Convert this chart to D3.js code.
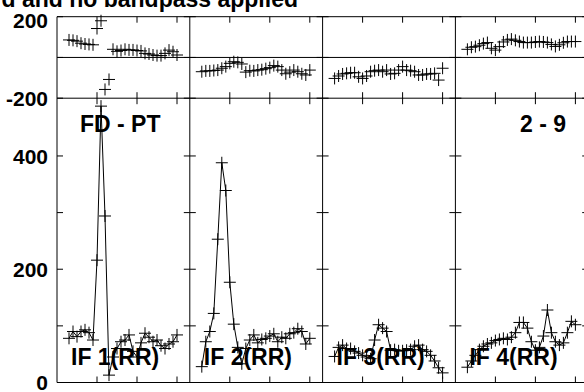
<!DOCTYPE html>
<html>
<head>
<meta charset="utf-8">
<script src="https://cdn.jsdelivr.net/npm/d3@7/dist/d3.min.js"></script>
<style>
  html, body { margin: 0; padding: 0; background: #fff; }
  svg { display: block; }
  text { font-family: "Liberation Sans", Arial, Helvetica, sans-serif; font-weight: bold; fill: #000; }
</style>
</head>
<body>
<svg id="chart" width="584" height="392"></svg>
<script>
// ---- data ----
const title = "d and no bandpass applied";
const baselineLabel = "FD - PT";
const timeLabel = "2 - 9";
const ifLabels = ["IF 1(RR)", "IF 2(RR)", "IF 3(RR)", "IF 4(RR)"];
const channels = [3, 4, 5, 6, 7, 8, 9, 10, 11, 12, 13, 14, 15, 16, 17, 18, 19, 20, 21, 22, 23, 24, 25, 26, 27, 28, 29, 30];
const xTicks = [10, 20, 30];
const ampTickLabels = [0, 200, 400];
const ampTicks = [0, 100, 200, 300, 400];
const phaseTickLabels = [200, -200];
const phaseTicks = [-200, 0, 200];

const ampIF1 = [78, 90, 81, 90, 93, 88, 75, 216, 488, 294, 13, 45, 60, 72, 75, 84, 55, 45, 70, 87, 80, 72, 75, 65, 60, 68, 72, 84];
const ampIF2 = [28, 72, 90, 122, 253, 388, 339, 177, 103, 62, 33, 60, 75, 84, 70, 76, 78, 82, 86, 72, 80, 78, 86, 88, 95, 90, 68, 78];
const ampIF3 = [46, 62, 66, 60, 60, 55, 52, 48, 45, 42, 75, 102, 96, 90, 57, 58, 56, 56, 57, 58, 64, 66, 58, 55, 48, 38, 26, 17];
const ampIF4 = [27, 38, 48, 58, 64, 68, 70, 74, 76, 78, 76, 80, 88, 106, 106, 96, 72, 57, 62, 82, 128, 88, 72, 66, 70, 88, 108, 102];

const phaseIF1 = [86, 84, 80, 70, 66, 64, 62, 142, 180, -157, -108, 40, 30, 34, 40, 37, 37, 34, 32, 20, 17, 12, 9, 9, 20, 36, 28, 12];
const phaseIF2 = [-70, -66, -66, -64, -62, -53, -45, -29, -21, -24, -32, -72, -65, -66, -62, -60, -55, -50, -40, -45, -62, -80, -72, -62, -70, -80, -86, -62];
const phaseIF3 = [-103, -91, -81, -78, -75, -75, -95, -103, -91, -70, -65, -62, -70, -62, -81, -78, -62, -45, -62, -65, -70, -86, -86, -81, -81, -78, -111, -53];
const phaseIF4 = [40, 50, 53, 60, 68, 73, 45, 36, 53, 76, 86, 90, 84, 78, 73, 73, 73, 76, 78, 76, 73, 64, 54, 62, 72, 78, 78, 78];

const ampSeries = [ampIF1, ampIF2, ampIF3, ampIF4];
const phaseSeries = [phaseIF1, phaseIF2, phaseIF3, phaseIF4];

// ---- layout ----
const left = 57, panelW = 132.8, nPanels = 4;
const topY = 16.7, midY = 98.2, botY = 382.5;
const tickLen = 6, plus = 6;

const svg = d3.select("#chart");
const yPhase = d3.scaleLinear().domain([-200, 200]).range([midY, topY]);
const yAmp = d3.scaleLinear().domain([0, 502]).range([botY, midY]);
const panelX = i => d3.scaleLinear().domain([0, 33.2]).range([left + i * panelW, left + (i + 1) * panelW]);

const g = svg.append("g");
const rightX = left + nPanels * panelW;

// frame lines
const hLines = [topY, yPhase(0), midY, botY];
g.selectAll("line.h").data(hLines).join("line")
  .attr("x1", left).attr("x2", rightX).attr("y1", d => d).attr("y2", d => d)
  .attr("stroke", "#000").attr("stroke-width", 1);
const vLines = d3.range(nPanels + 1).map(i => left + i * panelW);
g.selectAll("line.v").data(vLines).join("line")
  .attr("x1", d => d).attr("x2", d => d).attr("y1", topY).attr("y2", botY)
  .attr("stroke", "#000").attr("stroke-width", 1);

// y ticks on each boundary (both sides)
vLines.forEach((vx, bi) => {
  const sides = [];
  if (bi > 0) sides.push(-1);
  if (bi < nPanels) sides.push(1);
  sides.forEach(s => {
    ampTicks.forEach(t => {
      g.append("line").attr("x1", vx).attr("x2", vx + s * tickLen)
        .attr("y1", yAmp(t)).attr("y2", yAmp(t)).attr("stroke", "#000");
    });
    phaseTicks.forEach(t => {
      g.append("line").attr("x1", vx).attr("x2", vx + s * tickLen)
        .attr("y1", yPhase(t)).attr("y2", yPhase(t)).attr("stroke", "#000");
    });
  });
});

// x ticks
for (let i = 0; i < nPanels; i++) {
  const x = panelX(i);
  xTicks.forEach(t => {
    const px = x(t);
    [[topY, topY + tickLen], [midY - tickLen, midY + tickLen], [botY - tickLen, botY]].forEach(([a, b]) => {
      g.append("line").attr("x1", px).attr("x2", px).attr("y1", a).attr("y2", b).attr("stroke", "#000");
    });
  });
}

// data
const plusPath = `M${-plus},0H${plus}M0,${-plus}V${plus}`;
for (let i = 0; i < nPanels; i++) {
  const x = panelX(i);
  const amp = ampSeries[i].map((v, k) => ({ c: channels[k], v }));
  const ph = phaseSeries[i].map((v, k) => ({ c: channels[k], v }));
  const line = d3.line().x(d => x(d.c)).y(d => yAmp(d.v));
  g.append("path").datum(amp).attr("d", line)
    .attr("fill", "none").attr("stroke", "#000").attr("stroke-width", 1);
  g.selectAll(null).data(amp).join("path")
    .attr("d", plusPath).attr("transform", d => `translate(${x(d.c)},${yAmp(d.v)})`)
    .attr("stroke", "#000").attr("stroke-width", 1).attr("fill", "none");
  g.selectAll(null).data(ph).join("path")
    .attr("d", plusPath).attr("transform", d => `translate(${x(d.c)},${yPhase(d.v)})`)
    .attr("stroke", "#000").attr("stroke-width", 1).attr("fill", "none");
}

// tick labels
g.selectAll(null).data(ampTickLabels).join("text")
  .attr("x", 48).attr("y", d => yAmp(d)).attr("dy", "0.36em")
  .attr("text-anchor", "end").attr("font-size", 21).text(d => d);
g.selectAll(null).data(phaseTickLabels).join("text")
  .attr("x", 48).attr("y", d => Math.max(yPhase(d), topY + 3.5)).attr("dy", "0.36em")
  .attr("text-anchor", "end").attr("font-size", 21).text(d => d);

// labels
g.append("text").attr("x", 298).attr("y", 7).attr("text-anchor", "end")
  .attr("font-size", 23).text(title);
g.append("text").attr("x", 80).attr("y", 132).attr("font-size", 23).text(baselineLabel);
g.append("text").attr("x", 566).attr("y", 132).attr("text-anchor", "end").attr("font-size", 23).text(timeLabel);
ifLabels.forEach((lab, i) => {
  g.append("text").attr("x", left + i * panelW + 14).attr("y", 365)
    .attr("font-size", 23).text(lab);
});
</script>
</body>
</html>
